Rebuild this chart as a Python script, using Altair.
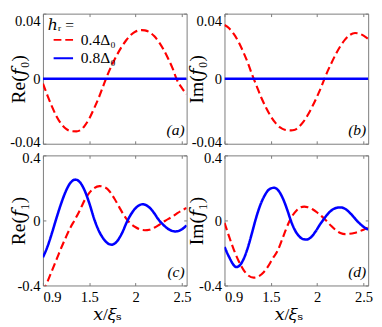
import altair as alt
import pandas as pd

SERIF = "Liberation Serif, Times New Roman, DejaVu Serif, serif"
FRAME = "#7a7a7a"
W, H = 148, 134

SERIES = ["0.4Δ₀", "0.8Δ₀"]
COLORS = ["#ff0000", "#0000ff"]
DASHES = [[8, 4], [1, 0]]
WIDTHS = [2.2, 2.6]

X_DOMAIN = [1.0, 2.55]
X_TICKS = [1.0, 1.5, 2.0, 2.5]
X_TICK_LABELS = ["0.9", "1.5", "2", "2.5"]
X_TITLE = "𝑥/𝜉ₛ"

Y0_DOMAIN = [-0.04, 0.04]
Y0_TICKS = [-0.04, 0.0, 0.04]
Y0_TICK_LABELS = ["-0.04", "0", "0.04"]
Y1_DOMAIN = [-0.4, 0.4]
Y1_TICKS = [-0.4, 0.0, 0.4]
Y1_TICK_LABELS = ["-0.4", "0", "0.4"]

# (a) Re(f0)
a_red_x = [1.0, 1.05, 1.1, 1.15, 1.2, 1.25, 1.3, 1.36, 1.4, 1.45, 1.5, 1.55, 1.6, 1.65, 1.68,
           1.7, 1.75, 1.8, 1.85, 1.9, 1.95, 2.0, 2.067, 2.1, 2.15, 2.2, 2.25, 2.3, 2.35, 2.4,
           2.44, 2.5, 2.55]
a_red_y = [-0.003, -0.0105, -0.0175, -0.0235, -0.028, -0.0309, -0.0322, -0.0324, -0.0318,
           -0.029, -0.0245, -0.0185, -0.012, -0.0045, 0.0, 0.0028, 0.0092, 0.0148, 0.0197,
           0.0238, 0.027, 0.029, 0.0299, 0.0297, 0.0286, 0.0262, 0.0226, 0.018, 0.0124,
           0.0062, 0.0, -0.0058, -0.0095]
a_blue_x = [1.0, 2.55]
a_blue_y = [0.0, 0.0]

# (b) Im(f0)
b_red_x = [1.0, 1.05, 1.1, 1.15, 1.2, 1.25, 1.3, 1.315, 1.35, 1.4, 1.45, 1.5, 1.55, 1.6, 1.65,
           1.72, 1.75, 1.8, 1.85, 1.9, 1.95, 2.0, 2.05, 2.079, 2.1, 2.15, 2.2, 2.25, 2.3, 2.35,
           2.408, 2.45, 2.5, 2.55]
b_red_y = [0.033, 0.031, 0.0275, 0.0228, 0.0168, 0.01, 0.0022, 0.0, -0.005, -0.012, -0.018,
           -0.0232, -0.0272, -0.03, -0.0314, -0.0318, -0.0316, -0.0298, -0.0266, -0.0222,
           -0.0168, -0.0108, -0.0042, 0.0, 0.003, 0.0092, 0.015, 0.02, 0.024, 0.0268, 0.0281,
           0.0278, 0.0265, 0.0245]
b_blue_x = [1.0, 2.55]
b_blue_y = [0.0, 0.0]

# (c) Re(f1)
c_red_x = [1.0, 1.05, 1.1, 1.15, 1.2, 1.25, 1.3, 1.34, 1.4, 1.45, 1.5, 1.55, 1.61, 1.67, 1.72,
           1.77, 1.82, 1.87, 1.913, 1.95, 2.0, 2.05, 2.1, 2.15, 2.2, 2.25, 2.3, 2.326, 2.4,
           2.45, 2.5, 2.55]
c_red_y = [-0.44, -0.375, -0.305, -0.235, -0.165, -0.1, -0.04, 0.0, 0.065, 0.125, 0.17, 0.198,
           0.211, 0.203, 0.178, 0.135, 0.085, 0.035, 0.0, -0.022, -0.042, -0.056, -0.06,
           -0.057, -0.045, -0.028, -0.009, 0.0, 0.025, 0.045, 0.062, 0.076]
c_blue_x = [1.0, 1.05, 1.1, 1.138, 1.2, 1.25, 1.3, 1.351, 1.4, 1.45, 1.5, 1.558, 1.6, 1.65, 1.7,
            1.741, 1.8, 1.85, 1.913, 1.95, 2.0, 2.075, 2.13, 2.18, 2.254, 2.3, 2.35, 2.43,
            2.5, 2.55]
c_blue_y = [-0.227, -0.159, -0.072, 0.0, 0.11, 0.184, 0.234, 0.251, 0.234, 0.184, 0.106, 0.0,
            -0.06, -0.11, -0.141, -0.149, -0.128, -0.081, 0.0, 0.038, 0.076, 0.0995, 0.088,
            0.06, 0.0, -0.028, -0.052, -0.0677, -0.054, -0.03]

# (d) Im(f1)
d_red_x = [1.0, 1.05, 1.1, 1.15, 1.2, 1.25, 1.315, 1.37, 1.42, 1.47, 1.52, 1.57, 1.62, 1.66,
           1.7, 1.74, 1.78, 1.82, 1.86, 1.9, 1.95, 2.0, 2.05, 2.096, 2.15, 2.2, 2.25, 2.304,
           2.35, 2.4, 2.45, 2.5, 2.55]
d_red_y = [-0.014, -0.1, -0.179, -0.246, -0.299, -0.335, -0.352, -0.343, -0.32, -0.283,
           -0.234, -0.19, -0.12, -0.06, -0.005, 0.035, 0.063, 0.08, 0.085, 0.081, 0.069,
           0.049, 0.025, 0.0, -0.033, -0.059, -0.077, -0.084, -0.082, -0.077, -0.068,
           -0.057, -0.044]
d_blue_x = [1.0, 1.05, 1.1, 1.125, 1.15, 1.2, 1.25, 1.3, 1.333, 1.38, 1.43, 1.48, 1.534, 1.58,
            1.63, 1.68, 1.715, 1.76, 1.81, 1.85, 1.888, 1.93, 1.98, 2.03, 2.061, 2.1, 2.15,
            2.2, 2.252, 2.3, 2.35, 2.4, 2.426, 2.47, 2.51, 2.55]
d_blue_y = [-0.163, -0.225, -0.275, -0.287, -0.283, -0.245, -0.17, -0.07, 0.0, 0.085, 0.15,
            0.19, 0.201, 0.185, 0.135, 0.06, 0.0, -0.06, -0.1, -0.115, -0.117, -0.105, -0.07,
            -0.025, 0.0, 0.03, 0.06, 0.076, 0.08, 0.072, 0.048, 0.017, 0.0, -0.025, -0.043,
            -0.056]


def make_df(xr, yr, xb, yb):
    return pd.DataFrame({
        "x": list(xr) + list(xb),
        "v": list(yr) + list(yb),
        "series": [SERIES[0]] * len(xr) + [SERIES[1]] * len(xb),
    })


def lab_expr(vals, labs):
    expr = "''"
    for v, l in reversed(list(zip(vals, labs))):
        expr = f"abs(datum.value - ({v})) < 1e-9 ? '{l}' : ({expr})"
    return expr


TICK = {"expr": "-3"}


def panel(df, ydom, yticks, ylabs, ytitle, ytitle_x, tag, bottom_row, show_legend):
    xscale = alt.Scale(domain=X_DOMAIN, nice=False, zero=False)
    yscale = alt.Scale(domain=ydom, nice=False, zero=False)

    x_kw = dict(orient="bottom", values=X_TICKS, grid=False, domain=False,
                tickSize=TICK, tickColor=FRAME)
    if bottom_row:
        x_kw.update(labelExpr=lab_expr(X_TICKS, X_TICK_LABELS), labelPadding=7,
                    title=X_TITLE, titleX=66, titleY=35, titleBaseline="alphabetic",
                    titleAlign="center", titleFontSize=18)
    else:
        x_kw.update(labels=False, title=None)

    y_kw = dict(orient="left", values=yticks, grid=False, domain=False,
                tickSize=TICK, tickColor=FRAME, labelExpr=lab_expr(yticks, ylabs),
                labelPadding=6, title=ytitle, titleX=ytitle_x, titleBaseline="alphabetic",
                titleFontSize=20)
    if not bottom_row:
        y_kw["labelBaseline"] = {"condition": {"test": "datum.value > 0.03", "value": "top"},
                                 "value": "middle"}
        y_kw["labelOffset"] = {"condition": {"test": "datum.value < -0.03", "value": -2},
                               "value": 0}
    else:
        y_kw["labelOffset"] = {"condition": {"test": "datum.value > 0.3", "value": 2},
                               "value": 0}

    if show_legend:
        leg = alt.Legend(title="ℎᵣ =", orient="none", legendX=5, legendY=4,
                         symbolType="stroke", symbolSize=400, symbolStrokeWidth=2,
                         symbolOffset=5, labelOffset=7, rowPadding=-2, titlePadding=-4,
                         padding=0, direction="vertical",
                         labelFont=SERIF, labelFontSize=16, labelColor="#000000",
                         titleFont=SERIF, titleFontSize=16, titleFontWeight="normal",
                         titleColor="#000000")
        color = alt.Color("series:N", scale=alt.Scale(domain=SERIES, range=COLORS), legend=leg)
        dash = alt.StrokeDash("series:N", scale=alt.Scale(domain=SERIES, range=DASHES), legend=leg)
    else:
        color = alt.Color("series:N", scale=alt.Scale(domain=SERIES, range=COLORS), legend=None)
        dash = alt.StrokeDash("series:N", scale=alt.Scale(domain=SERIES, range=DASHES), legend=None)

    lines = alt.Chart(df).mark_line(interpolate="monotone", clip=True).encode(
        x=alt.X("x:Q", scale=xscale, axis=alt.Axis(**x_kw)),
        y=alt.Y("v:Q", scale=yscale, axis=alt.Axis(**y_kw)),
        color=color,
        strokeDash=dash,
        strokeWidth=alt.StrokeWidth("series:N", scale=alt.Scale(domain=SERIES, range=WIDTHS),
                                    legend=None),
    )

    ghost = alt.Chart(df).mark_point(opacity=0, size=1, clip=True).encode(
        x=alt.X("x:Q", scale=xscale,
                axis=alt.Axis(orient="top", values=X_TICKS, labels=False, title=None,
                              grid=False, domain=False, tickSize=TICK, tickColor=FRAME)),
        y=alt.Y("v:Q", scale=yscale,
                axis=alt.Axis(orient="right", values=yticks, labels=False, title=None,
                              grid=False, domain=False, tickSize=TICK, tickColor=FRAME)),
    )

    tag_layer = alt.Chart(pd.DataFrame({"tag": [tag]})).mark_text(
        font=SERIF, fontSize=16, fontStyle="italic", align="right", baseline="middle",
        color="#000000",
    ).encode(x=alt.value(W - 2), y=alt.value(H - 14), text="tag:N")

    return alt.layer(lines, ghost, tag_layer).resolve_axis(
        x="independent", y="independent").properties(width=W, height=H)


pa = panel(make_df(a_red_x, a_red_y, a_blue_x, a_blue_y), Y0_DOMAIN, Y0_TICKS, Y0_TICK_LABELS,
           "Re(𝑓₀)", -19, "(a)", False, True)
pb = panel(make_df(b_red_x, b_red_y, b_blue_x, b_blue_y), Y0_DOMAIN, Y0_TICKS, Y0_TICK_LABELS,
           "Im(𝑓₀)", -23, "(b)", False, False)
pc = panel(make_df(c_red_x, c_red_y, c_blue_x, c_blue_y), Y1_DOMAIN, Y1_TICKS, Y1_TICK_LABELS,
           "Re(𝑓₁)", -19, "(c)", True, False)
pd_ = panel(make_df(d_red_x, d_red_y, d_blue_x, d_blue_y), Y1_DOMAIN, Y1_TICKS, Y1_TICK_LABELS,
            "Im(𝑓₁)", -23, "(d)", True, False)

chart = alt.concat(
    pa, pb, pc, pd_, columns=2, spacing={"row": 12, "column": 39}, bounds="flush",
).resolve_legend(
    color="independent", strokeDash="independent",
).properties(
    padding=0,
).configure_view(
    stroke=FRAME, strokeWidth=1,
).configure_axis(
    labelFont=SERIF, labelFontSize=15, labelColor="#000000",
    titleFont=SERIF, titleFontSize=20, titleFontWeight="normal", titleColor="#000000",
    tickWidth=1,
)

chart.save("out.html", embed_options={"renderer": "svg", "actions": False})
